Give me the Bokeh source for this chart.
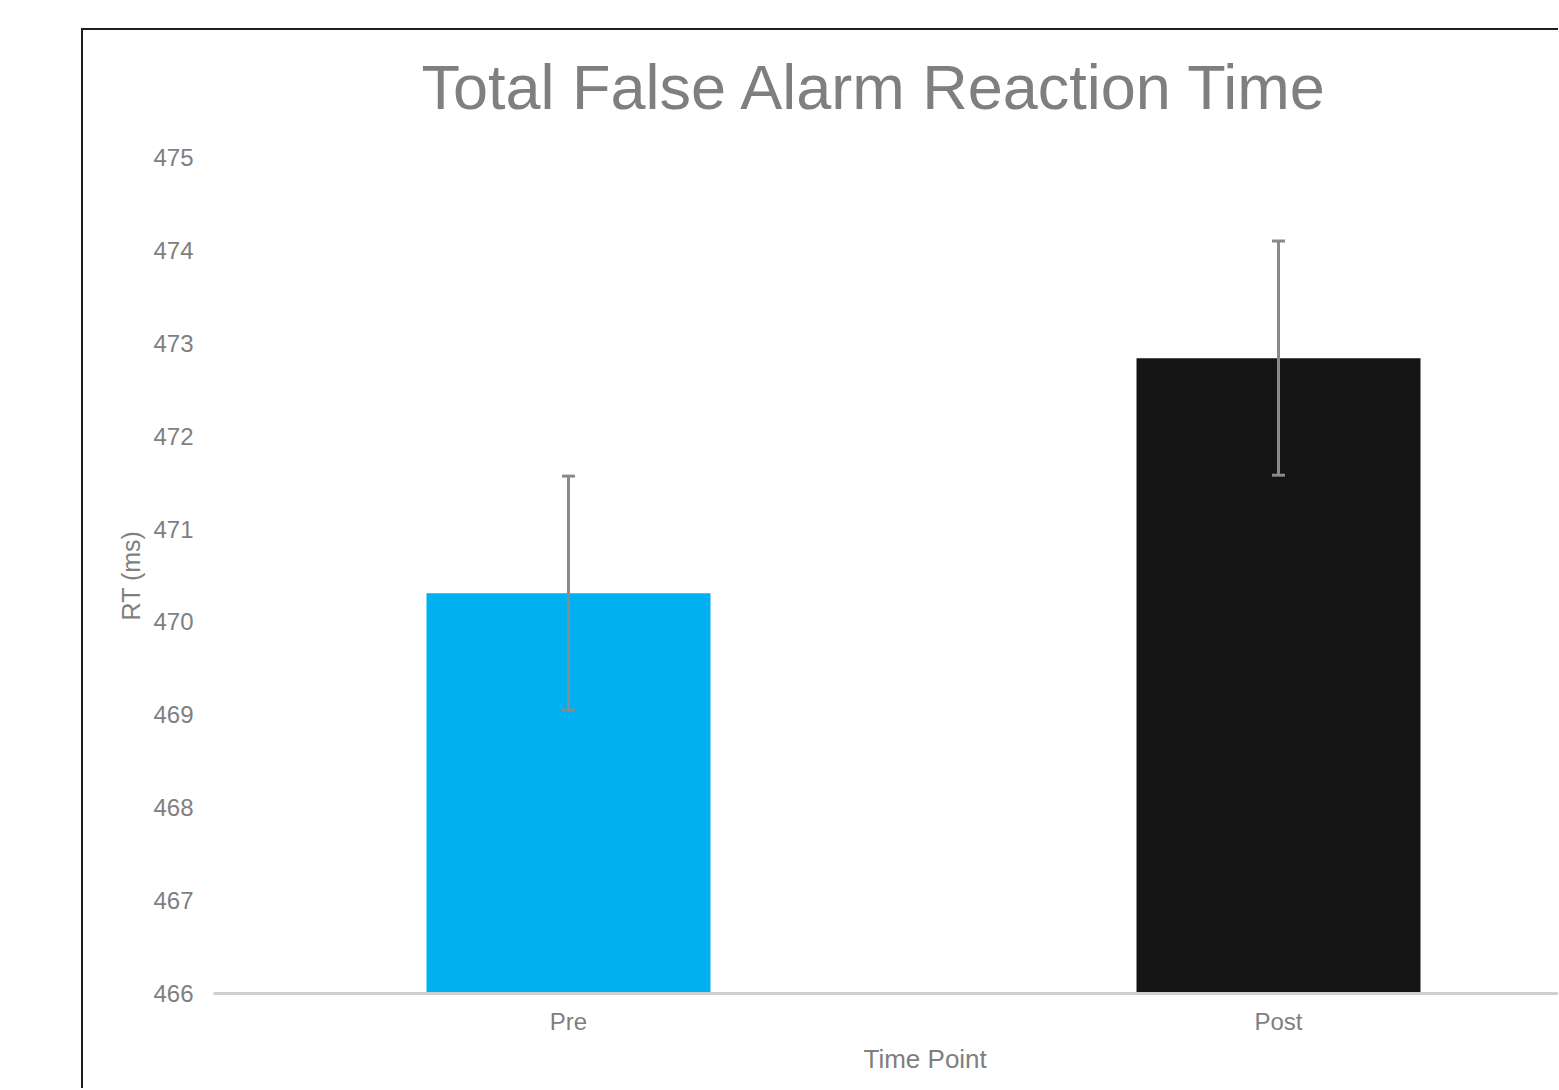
from bokeh.plotting import figure
from bokeh.models import ColumnDataSource, Range1d, FixedTicker, Whisker, TeeHead, Title
from bokeh.embed import file_html
from bokeh.resources import INLINE

# ---- data ----
categories = ["Pre", "Post"]
mean_rt = [470.31, 472.84]
err_rt = [1.26, 1.26]
bar_colors = ["#00B0F0", "#141414"]
y_ticks = [466, 467, 468, 469, 470, 471, 472, 473, 474, 475]
x_title = "Time Point"
y_title = "RT (ms)"
chart_title = "Total False Alarm Reaction Time"

x_pos = [i + 0.5 for i in range(len(categories))]
src = ColumnDataSource(dict(
    x=x_pos,
    top=mean_rt,
    color=bar_colors,
    upper=[m + e for m, e in zip(mean_rt, err_rt)],
    lower=[m - e for m, e in zip(mean_rt, err_rt)],
))

FONT = "Liberation Sans"
GRAY = "#7F7F7F"

W, H = 1477, 1060
LEFT = 130
PX_PER_CAT = 710.0
x_end = (W - LEFT) / PX_PER_CAT

p = figure(width=W, height=H, output_backend="svg", toolbar_location=None, title=None,
           x_range=Range1d(0, x_end), y_range=Range1d(466, 475),
           min_border_left=LEFT, min_border_right=0, min_border_top=127, min_border_bottom=H - 963,
           margin=(28, 0, 0, 81),
           styles={"border-left": "2px solid #1E1E1E", "border-top": "2px solid #1E1E1E"})

# small spacer between the frame and the chart title
p.add_layout(Title(text=" ", text_font=FONT, text_font_size="2px", standoff=28), "above")
p.add_layout(Title(text=chart_title, text_font=FONT, text_font_size="63px",
                   text_font_style="normal", text_color=GRAY,
                   align="left", offset=208, vertical_align="top", standoff=4), "above")

p.vbar(x="x", top="top", bottom=466, width=0.4, color="color", line_color=None, source=src)

w = Whisker(source=src, base="x", upper="upper", lower="lower", dimension="height",
            line_color="#8A8A8A", line_width=3, level="overlay",
            upper_head=TeeHead(size=13, line_color="#8A8A8A", line_width=3),
            lower_head=TeeHead(size=13, line_color="#8A8A8A", line_width=3))
p.add_layout(w)

p.xgrid.visible = False
p.ygrid.visible = False
p.outline_line_color = None
p.background_fill_color = "white"
p.border_fill_color = "white"

xa = p.xaxis[0]
xa.ticker = FixedTicker(ticks=x_pos)
xa.major_label_overrides = {x: c for x, c in zip(x_pos, categories)}
xa.axis_line_color = "#D0D0D0"
xa.axis_line_width = 3
xa.major_tick_line_color = None
xa.minor_tick_line_color = None
xa.major_label_text_font = FONT
xa.major_label_text_font_size = "24px"
xa.major_label_text_color = GRAY
xa.major_label_standoff = 8

# x-axis title centred on the full category span (the chart is cropped on the right)
p.add_layout(Title(text=x_title, text_font=FONT, text_font_size="26px",
                   text_font_style="normal", text_color=GRAY,
                   align="left", offset=650, vertical_align="top", standoff=13), "below")

ya = p.yaxis[0]
ya.ticker = FixedTicker(ticks=y_ticks)
ya.axis_line_color = None
ya.major_tick_line_color = None
ya.minor_tick_line_color = None
ya.major_label_text_font = FONT
ya.major_label_text_font_size = "24px"
ya.major_label_text_color = GRAY
ya.major_label_standoff = 14
ya.axis_label = y_title
ya.axis_label_text_font = FONT
ya.axis_label_text_font_size = "25px"
ya.axis_label_text_font_style = "normal"
ya.axis_label_text_color = GRAY
ya.axis_label_standoff = 5

open("out.html", "w").write(file_html(p, INLINE))
